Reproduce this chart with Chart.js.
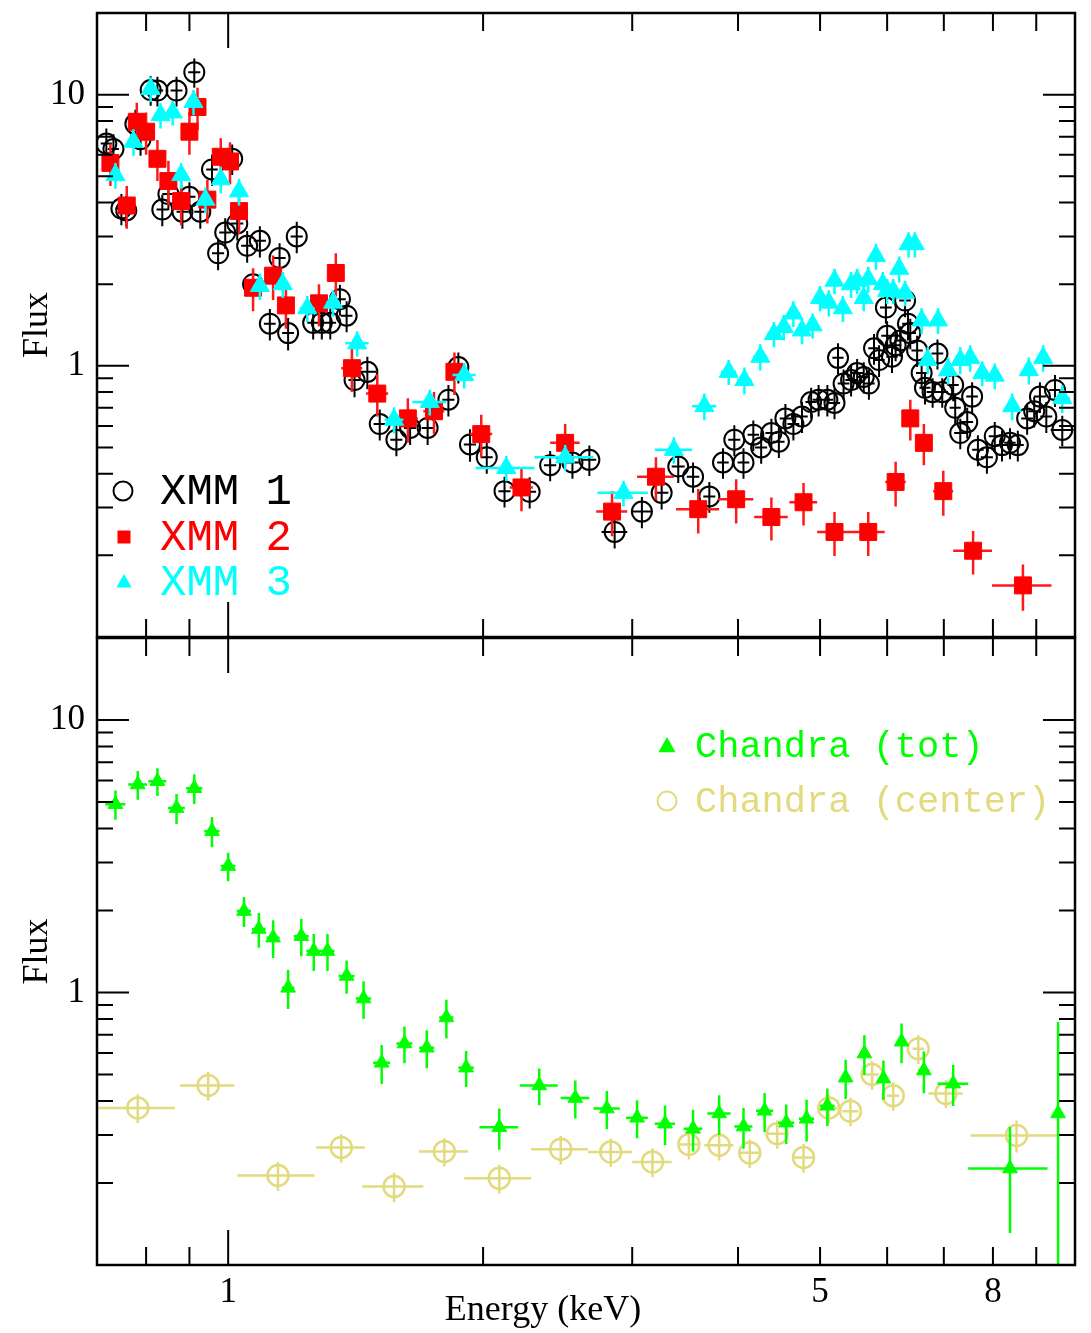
<!DOCTYPE html>
<html>
<head>
<meta charset="utf-8">
<script src="https://cdn.jsdelivr.net/npm/chart.js"></script>
<style>
  body { margin: 0; background: #fff; }
  #wrap { position: relative; width: 1091px; height: 1333px; }
  canvas { position: absolute; left: 0; }
  #topChart { top: 0; }
  #bottomChart { top: 625px; }
</style>
</head>
<body>
<div id="wrap">
  <canvas id="topChart" width="1091" height="650"></canvas>
  <canvas id="bottomChart" width="1091" height="708"></canvas>
</div>
<script>
// axes
const xMin = 0.71;
const xMax = 10;
const yMin = 0.1;
const yMax = 20;
const xTickLabels = [1, 5, 8];
const yTickLabels = [1, 10];
const xTickMarks = [0.8, 0.9, 1, 2, 3, 4, 5, 6, 7, 8, 9];
const yTickMarks = [0.2, 0.3, 0.4, 0.5, 0.6, 0.7, 0.8, 0.9, 1, 2, 3, 4, 5, 6, 7, 8, 9, 10];

// XMM 1 (energy keV, flux, half errors)
const xmm1Energy = [0.718, 0.732, 0.748, 0.758, 0.777, 0.788, 0.81, 0.825, 0.836, 0.85,
  0.869, 0.883, 0.9, 0.912, 0.927, 0.957, 0.973, 0.992, 1.011, 1.025,
  1.053, 1.07, 1.09, 1.12, 1.15, 1.177, 1.205, 1.26, 1.29, 1.32,
  1.355, 1.38, 1.41, 1.46, 1.51, 1.58, 1.64, 1.72, 1.82, 1.87,
  1.93, 2.02, 2.12, 2.27, 2.4, 2.55, 2.67, 2.86, 3.08, 3.25,
  3.4, 3.54, 3.7, 3.84, 3.96, 4.06, 4.17, 4.26, 4.38, 4.47,
  4.55, 4.65, 4.76, 4.88, 4.98, 5.1, 5.2, 5.25, 5.33, 5.44,
  5.53, 5.63, 5.71, 5.79, 5.87, 5.98, 6.0, 6.08, 6.14, 6.22,
  6.3, 6.35, 6.39, 6.51, 6.59, 6.65, 6.79, 6.88, 6.97, 7.18,
  7.22, 7.32, 7.46, 7.56, 7.68, 7.87, 8.04, 8.2, 8.38, 8.56,
  8.78, 8.95, 9.09, 9.25, 9.47, 9.66];
const xmm1Flux = [6.6, 6.3, 3.8, 3.74, 7.8, 6.85, 10.4, 10.35, 3.77, 4.3,
  10.35, 3.7, 4.2, 12.1, 3.7, 5.3, 2.6, 3.1, 5.8, 3.35,
  2.77, 2.0, 2.89, 1.43, 2.5, 1.32, 3.0, 1.44, 1.44, 1.44,
  1.76, 1.53, 0.886, 0.95, 0.61, 0.534, 0.59, 0.59, 0.75, 0.99,
  0.513, 0.46, 0.345, 0.343, 0.43, 0.44, 0.45, 0.244, 0.29, 0.34,
  0.425, 0.39, 0.33, 0.44, 0.534, 0.44, 0.557, 0.5, 0.565, 0.525,
  0.64, 0.61, 0.65, 0.735, 0.75, 0.75, 0.73, 1.07, 0.86, 0.886,
  0.94, 0.91, 0.86, 1.16, 1.05, 1.64, 1.29, 1.08, 1.19, 1.24,
  1.74, 1.43, 1.32, 1.14, 0.94, 0.83, 0.8, 1.11, 0.8, 0.85,
  0.7, 0.565, 0.62, 0.77, 0.49, 0.46, 0.55, 0.51, 0.52, 0.51,
  0.64, 0.68, 0.77, 0.65, 0.815, 0.58];
const xmm1ErrE = [0.011, 0.011, 0.012, 0.012, 0.012, 0.012, 0.013, 0.013, 0.013, 0.014,
  0.014, 0.014, 0.015, 0.015, 0.015, 0.015, 0.016, 0.016, 0.016, 0.017,
  0.017, 0.017, 0.018, 0.018, 0.019, 0.019, 0.02, 0.02, 0.021, 0.021,
  0.022, 0.022, 0.023, 0.035, 0.025, 0.026, 0.027, 0.028, 0.03, 0.03,
  0.032, 0.033, 0.035, 0.04, 0.04, 0.045, 0.05, 0.1, 0.09, 0.06,
  0.06, 0.06, 0.06, 0.06, 0.065, 0.065, 0.065, 0.07, 0.07, 0.07,
  0.07, 0.075, 0.075, 0.075, 0.08, 0.08, 0.08, 0.08, 0.085, 0.085,
  0.09, 0.09, 0.09, 0.09, 0.09, 0.095, 0.095, 0.095, 0.1, 0.1,
  0.1, 0.1, 0.1, 0.1, 0.1, 0.1, 0.11, 0.11, 0.11, 0.11,
  0.11, 0.12, 0.12, 0.12, 0.12, 0.13, 0.13, 0.13, 0.13, 0.14,
  0.14, 0.14, 0.15, 0.15, 0.15, 0.3];
const xmm1ErrF = [0.9, 0.85, 0.5, 0.5, 1.0, 0.9, 1.3, 1.3, 0.5, 0.55,
  1.3, 0.5, 0.55, 1.5, 0.5, 0.7, 0.35, 0.4, 0.75, 0.45,
  0.37, 0.27, 0.38, 0.19, 0.33, 0.18, 0.4, 0.19, 0.19, 0.19,
  0.23, 0.2, 0.12, 0.13, 0.08, 0.07, 0.08, 0.08, 0.1, 0.13,
  0.07, 0.06, 0.045, 0.045, 0.055, 0.057, 0.058, 0.032, 0.038, 0.045,
  0.055, 0.05, 0.043, 0.057, 0.07, 0.057, 0.072, 0.065, 0.073, 0.068,
  0.083, 0.08, 0.085, 0.095, 0.1, 0.1, 0.095, 0.14, 0.11, 0.115,
  0.12, 0.12, 0.11, 0.15, 0.14, 0.21, 0.17, 0.14, 0.15, 0.16,
  0.23, 0.19, 0.17, 0.15, 0.12, 0.11, 0.1, 0.14, 0.1, 0.11,
  0.09, 0.073, 0.08, 0.1, 0.064, 0.06, 0.07, 0.066, 0.068, 0.066,
  0.083, 0.088, 0.1, 0.085, 0.11, 0.075];

// XMM 2
const xmm2Energy = [0.726, 0.759, 0.78, 0.8, 0.825, 0.85, 0.88, 0.9, 0.92, 0.945,
  0.98, 1.005, 1.03, 1.07, 1.13, 1.17, 1.28, 1.34, 1.4, 1.5,
  1.63, 1.75, 1.85, 1.99, 2.22, 2.5, 2.84, 3.2, 3.59, 3.98,
  4.38, 4.78, 5.2, 5.7, 6.14, 6.39, 6.63, 6.99, 7.58, 8.68];
const xmm2Flux = [5.6, 3.9, 7.94, 7.3, 5.8, 4.8, 4.05, 7.3, 9.0, 4.1,
  5.9, 5.67, 3.72, 1.94, 2.15, 1.67, 1.7, 2.2, 0.98, 0.79,
  0.64, 0.68, 0.95, 0.56, 0.356, 0.52, 0.29, 0.39, 0.296, 0.322,
  0.277, 0.314, 0.244, 0.244, 0.373, 0.64, 0.52, 0.345, 0.208, 0.155];
const xmm2ErrE = [0.012, 0.012, 0.013, 0.013, 0.013, 0.014, 0.014, 0.015, 0.015, 0.015,
  0.016, 0.016, 0.017, 0.02, 0.025, 0.025, 0.03, 0.03, 0.04, 0.045,
  0.045, 0.05, 0.04, 0.06, 0.07, 0.1, 0.12, 0.16, 0.21, 0.19,
  0.2, 0.18, 0.24, 0.26, 0.17, 0.08, 0.08, 0.19, 0.4, 0.7];
const xmm2ErrF = [1.0, 0.7, 1.4, 1.3, 1.0, 0.9, 0.75, 1.3, 1.6, 0.75,
  1.0, 1.0, 0.65, 0.35, 0.4, 0.3, 0.3, 0.4, 0.18, 0.14,
  0.12, 0.12, 0.17, 0.1, 0.065, 0.09, 0.055, 0.07, 0.055, 0.06,
  0.05, 0.056, 0.045, 0.045, 0.07, 0.11, 0.09, 0.065, 0.038, 0.03];

// XMM 3
const xmm3Energy = [0.736, 0.773, 0.81, 0.832, 0.86, 0.88, 0.91, 0.94, 0.98, 1.03,
  1.09, 1.16, 1.24, 1.33, 1.42, 1.57, 1.73, 1.9, 2.13, 2.5,
  2.93, 3.36, 3.65, 3.9, 4.07, 4.25, 4.41, 4.53, 4.65, 4.76,
  4.9, 5.0, 5.12, 5.2, 5.32, 5.44, 5.53, 5.63, 5.7, 5.82,
  5.93, 6.0, 6.1, 6.2, 6.3, 6.36, 6.47, 6.59, 6.7, 6.89,
  7.08, 7.32, 7.52, 7.77, 8.04, 8.43, 8.82, 9.17, 9.66];
const xmm3Flux = [5.05, 6.7, 10.5, 8.4, 8.6, 5.05, 9.4, 4.1, 4.87, 4.4,
  1.97, 2.0, 1.63, 1.71, 1.21, 0.633, 0.736, 0.925, 0.42, 0.46,
  0.34, 0.49, 0.71, 0.95, 0.886, 1.08, 1.31, 1.39, 1.56, 1.35,
  1.41, 1.78, 1.71, 2.06, 1.63, 2.0, 2.06, 1.78, 2.09, 2.54,
  2.0, 1.89, 1.89, 2.28, 1.86, 2.81, 2.81, 1.47, 1.05, 1.47,
  0.964, 1.05, 1.07, 0.94, 0.92, 0.71, 0.964, 1.07, 0.76];
const xmm3ErrE = [0.012, 0.012, 0.013, 0.013, 0.014, 0.014, 0.015, 0.015, 0.016, 0.017,
  0.02, 0.02, 0.025, 0.025, 0.045, 0.04, 0.08, 0.06, 0.17, 0.2,
  0.2, 0.17, 0.12, 0.08, 0.08, 0.08, 0.08, 0.08, 0.08, 0.08,
  0.08, 0.08, 0.08, 0.08, 0.08, 0.08, 0.08, 0.08, 0.08, 0.08,
  0.08, 0.08, 0.08, 0.08, 0.08, 0.08, 0.08, 0.08, 0.08, 0.08,
  0.09, 0.09, 0.09, 0.1, 0.1, 0.11, 0.11, 0.12, 0.2];
const xmm3ErrF = [0.55, 0.75, 1.1, 0.9, 0.9, 0.55, 1.0, 0.45, 0.55, 0.5,
  0.22, 0.22, 0.18, 0.19, 0.13, 0.07, 0.08, 0.1, 0.045, 0.05,
  0.037, 0.055, 0.08, 0.1, 0.1, 0.12, 0.14, 0.15, 0.17, 0.15,
  0.15, 0.19, 0.19, 0.22, 0.18, 0.22, 0.22, 0.19, 0.23, 0.28,
  0.22, 0.2, 0.2, 0.25, 0.2, 0.3, 0.3, 0.16, 0.12, 0.16,
  0.11, 0.12, 0.12, 0.1, 0.1, 0.08, 0.11, 0.12, 0.09];

// Chandra (tot)
const chTotEnergy = [0.736, 0.782, 0.825, 0.869, 0.912, 0.957, 1.0, 1.044, 1.087, 1.13,
  1.177, 1.22, 1.262, 1.31, 1.38, 1.445, 1.518, 1.615, 1.716, 1.81,
  1.91, 2.09, 2.33, 2.57, 2.8, 3.04, 3.28, 3.54, 3.8, 4.06,
  4.3, 4.56, 4.82, 5.1, 5.36, 5.64, 5.94, 6.24, 6.63, 7.18,
  8.38, 9.55];
const chTotFlux = [4.91, 5.8, 5.96, 4.75, 5.62, 3.91, 2.91, 1.99, 1.71, 1.59,
  1.04, 1.61, 1.42, 1.42, 1.15, 0.95, 0.552, 0.65, 0.627, 0.81,
  0.53, 0.32, 0.456, 0.41, 0.375, 0.347, 0.33, 0.316, 0.36, 0.322,
  0.368, 0.333, 0.344, 0.384, 0.487, 0.597, 0.483, 0.66, 0.517, 0.463,
  0.226, 0.36];
const chTotErrE = [0.02, 0.02, 0.02, 0.02, 0.02, 0.02, 0.02, 0.02, 0.02, 0.02,
  0.02, 0.025, 0.025, 0.025, 0.03, 0.03, 0.035, 0.035, 0.035, 0.035,
  0.04, 0.11, 0.12, 0.1, 0.1, 0.09, 0.09, 0.09, 0.12, 0.1,
  0.1, 0.1, 0.1, 0.1, 0.06, 0.06, 0.06, 0.06, 0.1, 0.3,
  0.9, 0.05];
const chTotErrF = [0.6, 0.7, 0.7, 0.6, 0.7, 0.5, 0.35, 0.25, 0.25, 0.25,
  0.17, 0.25, 0.22, 0.22, 0.16, 0.15, 0.09, 0.1, 0.1, 0.13,
  0.08, 0.055, 0.07, 0.065, 0.06, 0.055, 0.055, 0.055, 0.06, 0.055,
  0.06, 0.055, 0.06, 0.06, 0.08, 0.1, 0.08, 0.11, 0.09, 0.08,
  0.095, 0.42];

// Chandra (center)
const chCenEnergy = [0.782, 0.947, 1.145, 1.36, 1.57, 1.8, 2.09, 2.47, 2.83, 3.17,
  3.5, 3.8, 4.13, 4.45, 4.78, 5.12, 5.43, 5.76, 6.1, 6.53,
  7.04, 8.53];
const chCenFlux = [0.377, 0.456, 0.213, 0.27, 0.194, 0.261, 0.208, 0.266, 0.26, 0.239,
  0.277, 0.275, 0.258, 0.303, 0.248, 0.377, 0.367, 0.5, 0.418, 0.622,
  0.426, 0.299];
const chCenErrE = [0.083, 0.07, 0.12, 0.09, 0.13, 0.12, 0.19, 0.19, 0.17, 0.17,
  0.1, 0.15, 0.13, 0.12, 0.12, 0.12, 0.12, 0.1, 0.1, 0.1,
  0.33, 1.0];
const chCenErrF = [0.045, 0.055, 0.026, 0.032, 0.024, 0.031, 0.025, 0.032, 0.031, 0.029,
  0.033, 0.033, 0.031, 0.036, 0.03, 0.045, 0.044, 0.06, 0.05, 0.075,
  0.05, 0.04];

const serif = "Liberation Serif, Times New Roman, serif";
const mono = "Courier New, Nimbus Mono PS, FreeMono, Liberation Mono, monospace";
const khaki = "#e3da7e";

const toPoints = (xs, ys) => xs.map((x, i) => ({ x: x, y: ys[i] }));

// error crosses, drawn just before each dataset's markers
const errorBars = {
  id: "errorBars",
  beforeDatasetDraw(chart, args) {
    const ds = chart.data.datasets[args.index];
    if (!ds.errX) return;
    const { ctx, chartArea: a, scales } = chart;
    ctx.save();
    ctx.beginPath();
    ctx.rect(a.left, a.top, a.right - a.left, a.bottom - a.top);
    ctx.clip();
    ctx.strokeStyle = ds.errColor;
    ctx.lineWidth = ds.errWidth;
    ctx.beginPath();
    ds.data.forEach((p, i) => {
      const px = scales.x.getPixelForValue(p.x);
      const py = scales.y.getPixelForValue(p.y);
      const lo = p.y - ds.errY[i] > 0 ? p.y - ds.errY[i] : 1e-4;
      ctx.moveTo(scales.x.getPixelForValue(p.x - ds.errX[i]), py);
      ctx.lineTo(scales.x.getPixelForValue(p.x + ds.errX[i]), py);
      ctx.moveTo(px, scales.y.getPixelForValue(lo));
      ctx.lineTo(px, scales.y.getPixelForValue(p.y + ds.errY[i]));
    });
    ctx.stroke();
    ctx.restore();
  },
};

// box with inward ticks on all four sides
const frameTicks = {
  id: "frameTicks",
  afterDraw(chart) {
    const { ctx, chartArea: a, scales } = chart;
    const isDecade = (v) => Math.abs(Math.log10(v) - Math.round(Math.log10(v))) < 1e-6;
    ctx.save();
    ctx.strokeStyle = "#000";
    ctx.lineWidth = 2;
    ctx.beginPath();
    xTickMarks.forEach((v) => {
      const x = scales.x.getPixelForValue(v);
      const len = isDecade(v) ? 35 : 18;
      ctx.moveTo(x, a.top);
      ctx.lineTo(x, a.top + len);
      ctx.moveTo(x, a.bottom);
      ctx.lineTo(x, a.bottom - len);
    });
    yTickMarks.forEach((v) => {
      const y = scales.y.getPixelForValue(v);
      const len = isDecade(v) ? 32 : 16;
      ctx.moveTo(a.left, y);
      ctx.lineTo(a.left + len, y);
      ctx.moveTo(a.right, y);
      ctx.lineTo(a.right - len, y);
    });
    ctx.stroke();
    ctx.lineWidth = 2.5;
    ctx.strokeRect(a.left, a.top, a.right - a.left, a.bottom - a.top);
    ctx.restore();
  },
};

// x caption sits left of centre in the original
const energyCaption = {
  id: "energyCaption",
  afterDraw(chart) {
    const ctx = chart.ctx;
    ctx.save();
    ctx.fillStyle = "#000";
    ctx.font = "36px " + serif;
    ctx.textAlign = "center";
    ctx.textBaseline = "middle";
    ctx.fillText("Energy (keV)", 543, chart.chartArea.bottom + 46);
    ctx.restore();
  },
};

const drawMarker = (ctx, style, x, y, r, color) => {
  ctx.beginPath();
  if (style === "circle") {
    ctx.arc(x, y, r, 0, Math.PI * 2);
    ctx.strokeStyle = color;
    ctx.lineWidth = 2;
    ctx.stroke();
    return;
  }
  if (style === "rect") {
    ctx.rect(x - r, y - r, 2 * r, 2 * r);
  } else {
    ctx.moveTo(x, y - r);
    ctx.lineTo(x + r * 0.95, y + r * 0.7);
    ctx.lineTo(x - r * 0.95, y + r * 0.7);
    ctx.closePath();
  }
  ctx.fillStyle = color;
  ctx.fill();
};

const panelLegend = (items) => ({
  id: "panelLegend",
  afterDraw(chart) {
    const ctx = chart.ctx;
    ctx.save();
    items.forEach((it) => {
      drawMarker(ctx, it.style, it.mx, it.y, it.size, it.color);
      ctx.fillStyle = it.color;
      ctx.font = it.font;
      ctx.textBaseline = "middle";
      ctx.textAlign = "left";
      ctx.fillText(it.text, it.tx, it.y + 1);
    });
    ctx.restore();
  },
});

const xScale = (showLabels) => ({
  type: "logarithmic",
  min: xMin,
  max: xMax,
  display: showLabels,
  grid: { display: false, drawTicks: false },
  border: { display: false },
  afterBuildTicks: (s) => {
    s.ticks = xTickLabels.map((v) => ({ value: v }));
  },
  afterFit: (s) => {
    s.height = showLabels ? 68 : 0;
    s.paddingLeft = 0;
    s.paddingRight = 0;
  },
  ticks: {
    autoSkip: false,
    maxRotation: 0,
    padding: 7,
    color: "#000",
    font: { family: serif, size: 35 },
    callback: (v) => String(v),
  },
  title: { display: false },
});

const yScale = () => ({
  type: "logarithmic",
  min: yMin,
  max: yMax,
  grid: { display: false, drawTicks: false },
  border: { display: false },
  afterBuildTicks: (s) => {
    s.ticks = yTickLabels.map((v) => ({ value: v }));
  },
  afterFit: (s) => {
    s.width = 97;
    s.paddingTop = 0;
    s.paddingBottom = 0;
  },
  ticks: {
    padding: 12,
    color: "#000",
    font: { family: serif, size: 35 },
    callback: (v) => String(v),
  },
  title: {
    display: true,
    text: "Flux",
    color: "#000",
    font: { family: serif, size: 36 },
    padding: { top: 16, bottom: 0 },
  },
});

const baseOptions = (showX, padding) => ({
  responsive: false,
  animation: false,
  events: [],
  layout: { padding: padding },
  plugins: {
    legend: { display: false },
    tooltip: { enabled: false },
  },
  scales: {
    x: xScale(showX),
    y: yScale(),
  },
});

const topData = {
  datasets: [
    {
      label: "XMM 1",
      data: toPoints(xmm1Energy, xmm1Flux),
      errX: xmm1ErrE,
      errY: xmm1ErrF,
      errColor: "#000",
      errWidth: 2,
      pointStyle: "circle",
      pointRadius: 10,
      borderWidth: 2,
      borderColor: "#000",
      backgroundColor: "rgba(0,0,0,0)",
      order: 3,
    },
    {
      label: "XMM 2",
      data: toPoints(xmm2Energy, xmm2Flux),
      errX: xmm2ErrE,
      errY: xmm2ErrF,
      errColor: "#ff1a1a",
      errWidth: 2.5,
      pointStyle: "rect",
      pointRadius: 12,
      borderWidth: 1,
      borderColor: "#ff0000",
      backgroundColor: "#ff0000",
      order: 2,
    },
    {
      label: "XMM 3",
      data: toPoints(xmm3Energy, xmm3Flux),
      errX: xmm3ErrE,
      errY: xmm3ErrF,
      errColor: "#00ffff",
      errWidth: 2.5,
      pointStyle: "triangle",
      pointRadius: 11,
      borderWidth: 1,
      borderColor: "#00ffff",
      backgroundColor: "#00ffff",
      order: 1,
    },
  ],
};

const bottomData = {
  datasets: [
    {
      label: "Chandra (tot)",
      data: toPoints(chTotEnergy, chTotFlux),
      errX: chTotErrE,
      errY: chTotErrF,
      errColor: "#00ff00",
      errWidth: 2.5,
      pointStyle: "triangle",
      pointRadius: 8.5,
      borderWidth: 1,
      borderColor: "#00ff00",
      backgroundColor: "#00ff00",
      order: 1,
    },
    {
      label: "Chandra (center)",
      data: toPoints(chCenEnergy, chCenFlux),
      errX: chCenErrE,
      errY: chCenErrF,
      errColor: khaki,
      errWidth: 2.5,
      pointStyle: "circle",
      pointRadius: 10.5,
      borderWidth: 2.5,
      borderColor: khaki,
      backgroundColor: "rgba(0,0,0,0)",
      order: 2,
    },
  ],
};

new Chart(document.getElementById("topChart").getContext("2d"), {
  type: "scatter",
  data: topData,
  options: baseOptions(false, { top: 11, right: 16, bottom: 0, left: 0 }),
  plugins: [
    errorBars,
    frameTicks,
    panelLegend([
      { text: "XMM 1", color: "#000", style: "circle", size: 9.5, mx: 123, tx: 160, y: 491, font: "44px " + mono },
      { text: "XMM 2", color: "#ff0000", style: "rect", size: 6.5, mx: 124, tx: 160, y: 537, font: "44px " + mono },
      { text: "XMM 3", color: "#00ffff", style: "triangle", size: 8, mx: 124, tx: 160, y: 582, font: "44px " + mono },
    ]),
  ],
});

new Chart(document.getElementById("bottomChart").getContext("2d"), {
  type: "scatter",
  data: bottomData,
  options: baseOptions(true, { top: 0, right: 16, bottom: 0, left: 0 }),
  plugins: [
    errorBars,
    frameTicks,
    energyCaption,
    panelLegend([
      { text: "Chandra (tot)", color: "#00ff00", style: "triangle", size: 9, mx: 667, tx: 695, y: 121, font: "37px " + mono },
      { text: "Chandra (center)", color: khaki, style: "circle", size: 9.5, mx: 667, tx: 695, y: 176, font: "37px " + mono },
    ]),
  ],
});
</script>
</body>
</html>
